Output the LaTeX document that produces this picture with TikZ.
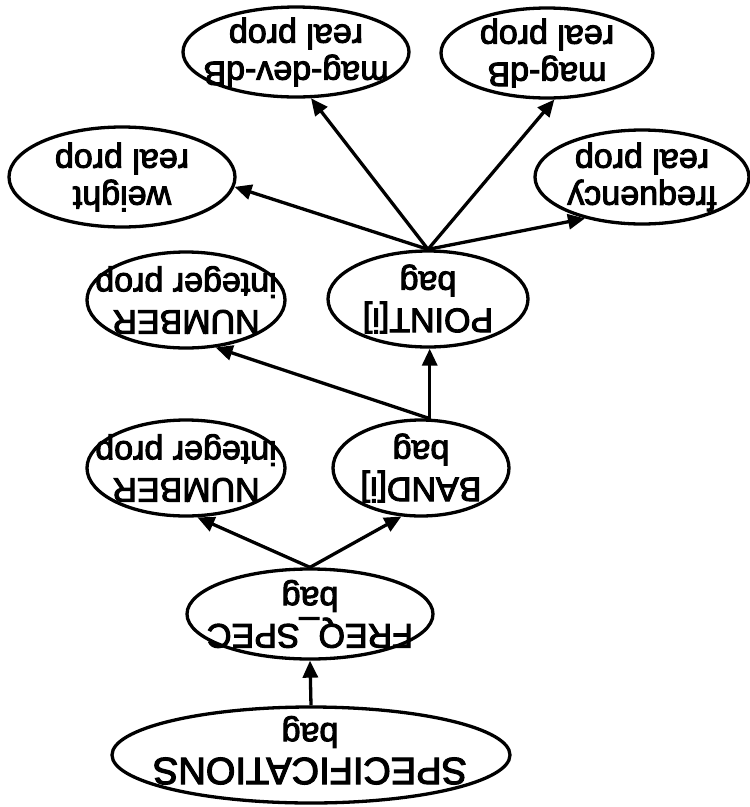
\documentclass[tikz,border=0pt]{standalone}
\usepackage{fontspec}
\setmainfont{Liberation Sans}[RawFeature={embolden=3}]
\usetikzlibrary{shapes.geometric,arrows.meta}
\begin{document}
\begin{tikzpicture}[x=1pt,y=-1pt,
  bub/.style={draw, ellipse, line width=3.3pt, inner sep=0pt},
  lbl/.style={rotate=180, align=center, inner sep=0pt,
              font=\fontsize{34}{37}\selectfont},
  link/.style={line width=3.3pt, -{Triangle[length=17pt,width=15pt]}}]
\useasboundingbox (0,0) rectangle (750,807);

% property tree (printed upside down)
\node[bub, minimum width=398pt, minimum height=96pt] (spec) at (311,755) {};
\node[lbl, font=\fontsize{38}{40}\selectfont] (spec-t1) at (310,771) {SPECIFICATIONS};
\node[lbl] (spec-t2) at (310,732) {bag};

\node[bub, minimum width=246pt, minimum height=90pt] (fs) at (310,614) {};
\node[lbl] (fs-t) at (fs) {FREQ\_SPEC\\bag};

\node[bub, minimum width=198pt, minimum height=96pt] (num1) at (186,468) {};
\node[lbl] (num1-t) at (num1) {NUMBER\\integer prop};

\node[bub, minimum width=176pt, minimum height=96pt] (band) at (421,468) {};
\node[lbl] (band-t) at (band) {BAND[i]\\bag};

\node[bub, minimum width=198pt, minimum height=96pt] (num2) at (186,300) {};
\node[lbl] (num2-t) at (num2) {NUMBER\\integer prop};

\node[bub, minimum width=200pt, minimum height=96pt] (point) at (428,299) {};
\node[lbl] (point-t) at (point) {POINT[i]\\bag};

\node[bub, minimum width=226pt, minimum height=100pt] (weight) at (122,177) {};
\node[lbl] (weight-t) at (weight) {weight\\real prop};

\node[bub, minimum width=214pt, minimum height=94pt] (freq) at (642,177) {};
\node[lbl] (freq-t) at (freq) {frequency\\real prop};

\node[bub, minimum width=226pt, minimum height=90pt] (magdev) at (296,52) {};
\node[lbl] (magdev-t) at (magdev) {mag-dev-dB\\real prop};

\node[bub, minimum width=212pt, minimum height=90pt] (magdb) at (547,53) {};
\node[lbl] (magdb-t) at (magdb) {mag-dB\\real prop};

% connectors
\draw[link] (spec.north) -- (fs.south);
\draw[link] (fs.north) -- (num1.-77);
\draw[link] (fs.north) -- (band.-112);
\draw[link] (band.80) -- (band.80 |- point.south);
\draw[link] (band.80) -- (num2.-58);
\draw[link] (point.north) -- (weight.-5);
\draw[link] (point.north) -- (magdev.-72);
\draw[link] (point.north) -- (magdb.-81);
\draw[link] (point.north) -- (freq.-144);
\end{tikzpicture}
\end{document}
